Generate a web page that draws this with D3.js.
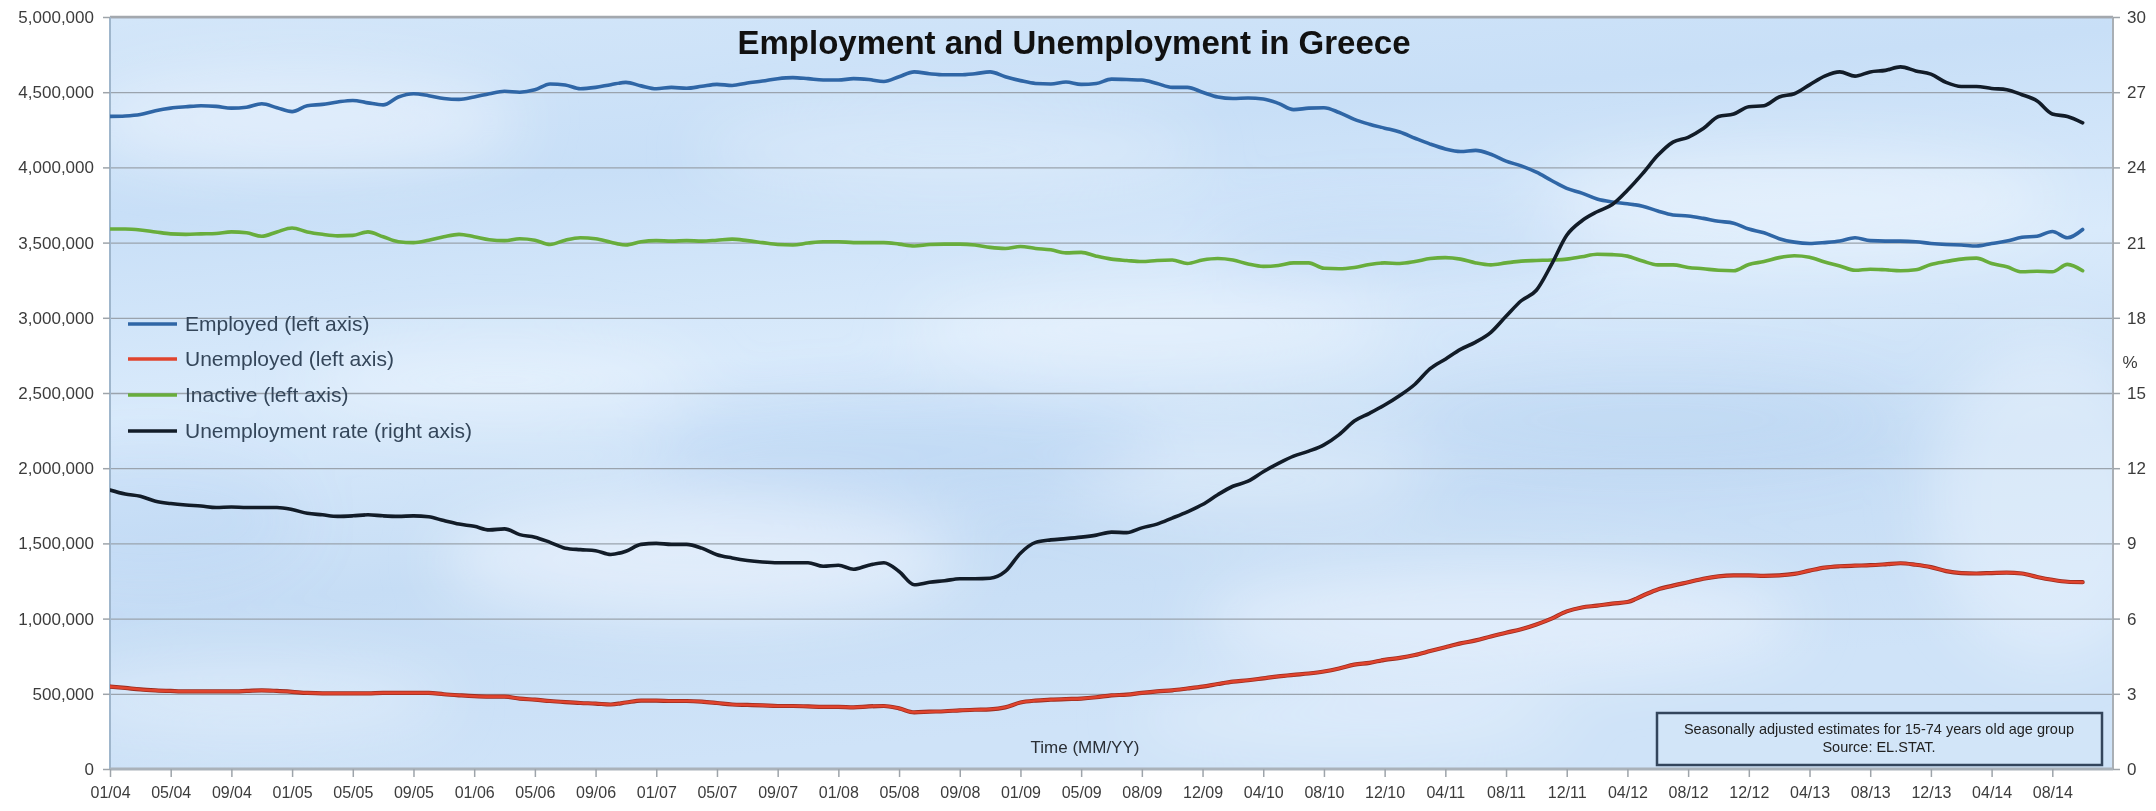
<!DOCTYPE html>
<html>
<head>
<meta charset="utf-8">
<script src="https://cdn.jsdelivr.net/npm/d3@7"></script>
<style>
  html, body { margin: 0; padding: 0; background: #ffffff; }
  svg { display: block; font-family: "Liberation Sans", Arial, sans-serif; }
</style>
</head>
<body>
<svg id="chart" width="2156" height="811"></svg>
<script>
// Monthly labels shown on the time axis (every 4th observation)
const tickLabels = ["01/04","05/04","09/04","01/05","05/05","09/05","01/06","05/06","09/06",
  "01/07","05/07","09/07","01/08","05/08","09/08","01/09","05/09","08/09","12/09","04/10",
  "08/10","12/10","04/11","08/11","12/11","04/12","08/12","12/12","04/13","08/13","12/13",
  "04/14","08/14"];

// Employed persons, thousands (left axis)
const employed = [
  4339,4342,4352,4377,4394,4403,4410,4406,4394,4400,4423,4397,4371,4410,4419,4435,4445,4429,
  4416,4468,4490,4477,4458,4452,4468,4490,4506,4500,4516,4555,4548,4523,4532,4550,
  4565,4542,4523,4532,4526,4539,4552,4545,4561,4574,4590,4597,4590,4581,4581,4590,4584,4571,
  4603,4635,4623,4616,4616,4623,4635,4603,4577,4558,4555,4568,4552,4558,4587,
  4584,4581,4558,4532,4532,4500,4468,4458,4461,4455,4426,4384,4394,4397,4365,4319,4287,4261,
  4235,4194,4155,4123,4106,4113,4087,4042,4010,3968,3913,3861,3829,3790,3770,
  3758,3742,3710,3684,3677,3661,3642,3629,3590,3565,3526,3503,3494,3500,3510,3532,3513,3510,
  3510,3506,3494,3487,3484,3477,3494,3510,3535,3542,3574,3532,3587
];

// Unemployed persons, thousands (left axis)
const unemployed = [
  548,539,529,523,519,516,516,516,516,519,523,519,513,506,503,503,503,503,506,506,506,506,
  497,490,484,481,481,468,461,452,445,439,435,429,
  442,455,455,452,452,448,439,429,426,423,419,419,416,413,413,410,416,419,403,377,381,384,
  390,394,397,410,442,455,461,465,468,477,490,
  494,506,516,523,535,548,565,581,590,603,616,626,635,648,668,694,706,726,739,758,784,810,
  835,855,881,906,929,961,1000,1048,1074,1086,1100,
  1110,1152,1194,1219,1242,1265,1281,1287,1287,1284,1287,1297,1319,1339,1348,1352,1355,
  1361,1368,1358,1342,1316,1303,1300,1303,1306,1300,1277,1258,1245,1242
];

// Inactive persons, thousands (left axis)
const inactive = [
  3590,3590,3584,3571,3558,3555,3558,3561,3571,3565,3542,3571,3597,3571,3555,3545,3548,3571,
  3539,3506,3500,3516,3539,3555,3539,3519,3513,3526,3516,3487,3516,3532,3526,3503,
  3484,3506,3513,3510,3513,3510,3516,3523,3513,3500,3487,3484,3497,3506,3506,3500,3500,3500,
  3490,3477,3487,3490,3490,3484,3468,3461,3474,3461,3452,3432,3435,3410,3390,
  3381,3374,3381,3384,3361,3384,3394,3384,3358,3342,3348,3365,3365,3329,3326,3335,3355,3365,
  3361,3374,3394,3400,3390,3365,3352,3365,3377,3381,3384,3390,3406,3423,3420,
  3410,3377,3352,3352,3335,3326,3316,3313,3355,3374,3400,3413,3403,3371,3345,3316,3323,3319,
  3313,3319,3355,3374,3390,3397,3361,3339,3306,3310,3306,3355,3313
];

// Unemployment rate, % (right axis)
const rate = [
  11.13,10.97,10.88,10.68,10.59,10.53,10.49,10.43,10.45,10.43,10.43,10.43,10.35,10.20,10.14,
  10.08,10.10,10.14,10.10,10.08,10.10,10.06,9.91,9.77,9.68,9.54,9.58,9.35,9.25,9.04,8.81,
  8.75,8.71,8.56,
  8.69,8.96,9.00,8.96,8.96,8.81,8.55,8.42,8.32,8.26,8.23,8.23,8.23,8.09,8.13,7.97,8.13,8.23,
  7.88,7.35,7.45,7.51,7.59,7.59,7.61,7.88,8.61,9.04,9.14,9.19,9.25,9.33,9.45,
  9.43,9.62,9.77,10.01,10.26,10.55,10.94,11.28,11.48,11.86,12.19,12.48,12.68,12.93,13.34,
  13.88,14.19,14.52,14.90,15.35,15.97,16.35,16.74,17.03,17.42,18.06,18.68,19.10,20.13,21.29,
  21.87,22.23,22.52,
  23.09,23.75,24.48,25.01,25.20,25.55,26.03,26.13,26.42,26.46,26.81,26.94,27.29,27.64,27.81,
  27.64,27.81,27.87,28.01,27.85,27.72,27.39,27.23,27.23,27.15,27.10,26.90,26.65,26.13,26.03,
  25.78
];

const seriesInfo = [
  { name: "Employed (left axis)",           values: employed,   axis: "L", color: "#2f66a6", edge: null },
  { name: "Unemployed (left axis)",         values: unemployed, axis: "L", color: "#e0442e", edge: "#9a2c1f" },
  { name: "Inactive (left axis)",           values: inactive,   axis: "L", color: "#68ad3c", edge: null },
  { name: "Unemployment rate (right axis)", values: rate,       axis: "R", color: "#121c28", edge: null }
];

const plot = { left: 110, right: 2113, top: 17, bottom: 769 };
const svg = d3.select("#chart");

const x = d3.scaleLinear().domain([0, 132]).range([plot.left, plot.right]);
const yL = d3.scaleLinear().domain([0, 5000000]).range([plot.bottom, plot.top]);
const yR = d3.scaleLinear().domain([0, 30]).range([plot.bottom, plot.top]);

// ---- plot area background: soft sky-blue wash ----
const defs = svg.append("defs");
const grad = defs.append("linearGradient").attr("id", "bg").attr("x1", 0).attr("y1", 0).attr("x2", 0.25).attr("y2", 1);
[[0, "#d3e6f9"], [0.25, "#c8dff7"], [0.5, "#d9eafb"], [0.75, "#c6ddf5"], [1, "#cfe3f8"]]
  .forEach(([o, c]) => grad.append("stop").attr("offset", o).attr("stop-color", c));
defs.append("filter").attr("id", "soft").attr("x", "-50%").attr("y", "-50%").attr("width", "200%").attr("height", "200%")
  .append("feGaussianBlur").attr("stdDeviation", 30);
defs.append("clipPath").attr("id", "plotClip").append("rect")
  .attr("x", plot.left).attr("y", plot.top).attr("width", plot.right - plot.left).attr("height", plot.bottom - plot.top);

svg.append("rect")
  .attr("x", plot.left).attr("y", plot.top)
  .attr("width", plot.right - plot.left).attr("height", plot.bottom - plot.top)
  .attr("fill", "url(#bg)");

const clouds = svg.append("g").attr("clip-path", "url(#plotClip)").attr("filter", "url(#soft)");
[[300, 120, 220, 50, 0.5], [700, 560, 260, 60, 0.55], [1150, 330, 240, 45, 0.4], [1500, 620, 300, 55, 0.5],
 [1800, 200, 260, 50, 0.45], [500, 380, 200, 40, 0.35], [2050, 500, 120, 160, 0.4], [950, 150, 250, 40, 0.35],
 [1350, 720, 220, 30, 0.4], [250, 700, 200, 35, 0.4], [1250, 480, 180, 40, 0.35]]
  .forEach(([cx, cy, rx, ry, op]) => clouds.append("ellipse")
    .attr("cx", cx).attr("cy", cy).attr("rx", rx).attr("ry", ry)
    .attr("fill", "#f6faff").attr("opacity", op));
[[900, 450, 260, 50, 0.25], [1650, 420, 250, 45, 0.22], [150, 520, 150, 60, 0.2], [1400, 250, 200, 40, 0.2]]
  .forEach(([cx, cy, rx, ry, op]) => clouds.append("ellipse")
    .attr("cx", cx).attr("cy", cy).attr("rx", rx).attr("ry", ry)
    .attr("fill", "#9fc4ee").attr("opacity", op));

// ---- horizontal gridlines ----
svg.append("g")
  .attr("transform", `translate(${plot.left},0)`)
  .call(d3.axisLeft(yL).tickValues(d3.range(500000, 5000001, 500000))
    .tickSize(-(plot.right - plot.left)).tickFormat(""))
  .call(g => g.select(".domain").remove())
  .call(g => g.selectAll("line").attr("stroke", "#9aa3ad").attr("stroke-width", 1.3));

// frame: top and side edges
svg.append("line").attr("x1", plot.left).attr("x2", plot.right).attr("y1", plot.top).attr("y2", plot.top)
  .attr("stroke", "#a3a8ae").attr("stroke-width", 2.5);
svg.append("line").attr("x1", plot.left).attr("x2", plot.left).attr("y1", plot.top).attr("y2", plot.bottom)
  .attr("stroke", "#9fb6cc").attr("stroke-width", 2);
svg.append("line").attr("x1", plot.right).attr("x2", plot.right).attr("y1", plot.top).attr("y2", plot.bottom)
  .attr("stroke", "#a9afb5").attr("stroke-width", 2);

// ---- axes ----
const tickColor = "#9ea4aa";
const labelColor = "#3c3c3c";

svg.append("g")
  .attr("transform", `translate(${plot.left},0)`)
  .call(d3.axisLeft(yL).tickValues(d3.range(0, 5000001, 500000)).tickFormat(d3.format(",")).tickSize(7).tickPadding(9))
  .call(g => g.select(".domain").remove())
  .call(g => g.selectAll("line").attr("stroke", tickColor).attr("stroke-width", 1.5))
  .call(g => g.selectAll("text").attr("fill", labelColor).style("font-size", "17px"));

svg.append("g")
  .attr("transform", `translate(${plot.right},0)`)
  .call(d3.axisRight(yR).tickValues(d3.range(0, 31, 3)).tickSize(7).tickPadding(7))
  .call(g => g.select(".domain").remove())
  .call(g => g.selectAll("line").attr("stroke", tickColor).attr("stroke-width", 1.5))
  .call(g => g.selectAll("text").attr("fill", labelColor).style("font-size", "17px"));

svg.append("g")
  .attr("transform", `translate(0,${plot.bottom})`)
  .call(d3.axisBottom(x).tickValues(d3.range(0, tickLabels.length * 4, 4))
    .tickFormat((d, i) => tickLabels[i]).tickSize(8).tickPadding(10))
  .call(g => g.select(".domain").attr("stroke", "#aab2ba").attr("stroke-width", 3)
    .attr("d", `M${plot.left},0H${plot.right}`))
  .call(g => g.selectAll("line").attr("stroke", tickColor).attr("stroke-width", 1.5))
  .call(g => g.selectAll("text").attr("fill", labelColor).style("font-size", "16px"));

// right-axis unit
svg.append("text").attr("x", 2130).attr("y", 368).attr("text-anchor", "middle")
  .attr("fill", labelColor).style("font-size", "17px").text("%");

// ---- series lines ----
const lines = svg.append("g").attr("clip-path", "url(#plotClip)");
seriesInfo.forEach(s => {
  const yScale = s.axis === "L" ? yL : yR;
  const factor = s.axis === "L" ? 1000 : 1;
  const gen = d3.line()
    .x((d, i) => x(i))
    .y(d => yScale(d * factor))
    .curve(d3.curveMonotoneX);
  if (s.edge) {
    lines.append("path")
      .datum(s.values)
      .attr("d", gen)
      .attr("fill", "none")
      .attr("stroke", s.edge)
      .attr("stroke-width", 4.2)
      .attr("stroke-linejoin", "round")
      .attr("stroke-linecap", "round");
  }
  lines.append("path")
    .datum(s.values)
    .attr("d", gen)
    .attr("fill", "none")
    .attr("stroke", s.color)
    .attr("stroke-width", s.edge ? 2.6 : 3.6)
    .attr("stroke-linejoin", "round")
    .attr("stroke-linecap", "round");
});

// ---- title ----
svg.append("text")
  .attr("x", 1074).attr("y", 54).attr("text-anchor", "middle")
  .attr("fill", "#111111").style("font-size", "33px").style("font-weight", "bold")
  .text("Employment and Unemployment in Greece");

// ---- legend ----
const legend = svg.append("g");
const legendRows = [324, 359, 395, 431];
seriesInfo.forEach((s, i) => {
  legend.append("line").attr("x1", 128).attr("x2", 177)
    .attr("y1", legendRows[i]).attr("y2", legendRows[i])
    .attr("stroke", s.color).attr("stroke-width", 3.5);
  legend.append("text").attr("x", 185).attr("y", legendRows[i]).attr("dy", "0.35em")
    .attr("fill", "#34465a").style("font-size", "21px").text(s.name);
});

// ---- axis title ----
svg.append("text").attr("x", 1085).attr("y", 747).attr("dy", "0.35em").attr("text-anchor", "middle")
  .attr("fill", "#2a2f36").style("font-size", "17px").text("Time (MM/YY)");

// ---- source note ----
const note = svg.append("g");
note.append("rect").attr("x", 1657).attr("y", 713).attr("width", 445).attr("height", 52)
  .attr("fill", "#d2e5f8").attr("stroke", "#33455c").attr("stroke-width", 2.5);
note.append("text").attr("x", 1879).attr("y", 729).attr("dy", "0.35em").attr("text-anchor", "middle")
  .attr("fill", "#222").style("font-size", "14.5px").text("Seasonally adjusted estimates  for 15-74 years old age group");
note.append("text").attr("x", 1879).attr("y", 747).attr("dy", "0.35em").attr("text-anchor", "middle")
  .attr("fill", "#222").style("font-size", "14.5px").text("Source: EL.STAT.");
</script>
</body>
</html>
